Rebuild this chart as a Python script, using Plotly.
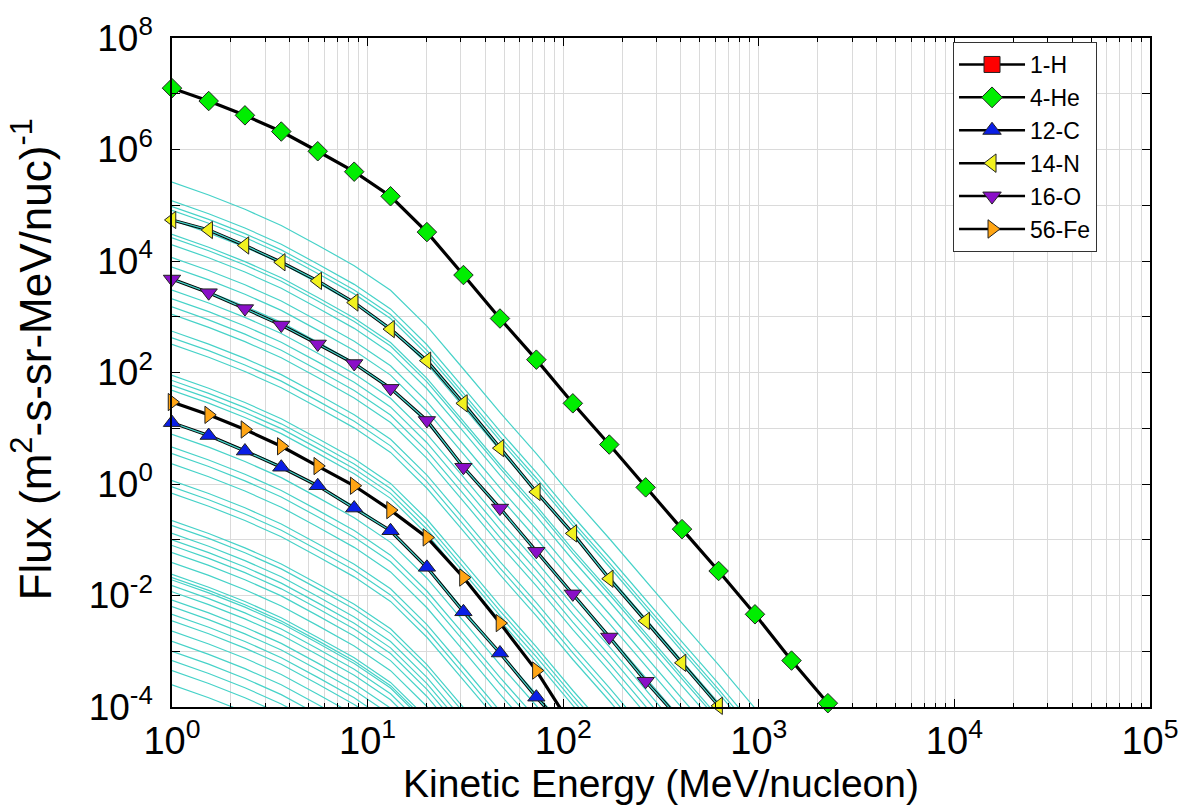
import plotly.graph_objects as go

# ---------------- data ----------------
energy = [1, 1.54, 2.36, 3.62, 5.56, 8.54, 13.1, 20.1, 30.9, 47.5, 72.9,
          112, 172, 264, 405, 623, 956, 1470, 2255]

species = ["1-H", "4-He", "12-C", "14-N", "16-O", "56-Fe"]

flux_h = []  # proton spectrum lies outside the plotted window
flux_he = [1.26e7, 7.4e6, 4.1e6, 2.1e6, 9.3e5, 4.0e5, 1.45e5, 3.3e4, 5.6e3,
           930, 170, 28, 5.1, 0.87, 0.155, 0.0275, 4.6e-3, 6.8e-4, 1.17e-4]
flux_c = [12.6, 7.4, 3.9, 2.0, 0.93, 0.37, 0.145, 0.032, 5.1e-3, 9.3e-4,
          1.5e-4, 2.8e-5]
flux_n = [5.45e4, 3.6e4, 1.9e4, 9.5e3, 4.4e3, 1.8e3, 600, 163, 28, 4.4,
          0.72, 0.13, 0.020, 3.5e-3, 6.2e-4, 1.05e-4]
flux_o = [4750, 2700, 1400, 710, 325, 145, 52, 13.8, 2.0, 0.37, 0.062,
          0.0107, 1.8e-3, 2.9e-4, 5.4e-5]
flux_fe = [29.5, 17.4, 9.5, 4.75, 2.1, 0.93, 0.34, 0.11, 0.021, 3.2e-3,
           4.5e-4, 4.2e-5]

# flux at 1 MeV/nucleon of the thin background spectra (all other elements)
teal_start = [2.6e5, 1.2e5, 9.5e4, 8.1e4, 5.45e4, 3.0e4, 2.6e4, 1.95e4, 1.15e4,
              7.8e3, 4750, 3.0e3, 2.1e3, 1.5e3, 1.1e3, 550, 420, 320, 89, 72,
              59, 48, 12.6, 7.8, 4.6, 3.5, 2.3, 1.15, 0.89, 0.68, 0.22, 0.18,
              0.13, 0.10, 0.079, 0.059, 0.039, 0.024, 0.021, 0.019, 0.015,
              0.0117, 0.0083, 0.0063, 0.0046, 0.0035, 0.0023, 0.0015, 0.001,
              6.8e-4, 4.5e-4, 2.5e-4]

x_ticks = [1, 10, 100, 1000, 10000, 100000]
x_labels = ["10<sup>0</sup>", "10<sup>1</sup>", "10<sup>2</sup>",
            "10<sup>3</sup>", "10<sup>4</sup>", "10<sup>5</sup>"]
y_ticks = [1e-4, 1e-2, 1, 1e2, 1e4, 1e6, 1e8]
y_labels = ["10<sup>-4</sup>", "10<sup>-2</sup>", "10<sup>0</sup>",
            "10<sup>2</sup>", "10<sup>4</sup>", "10<sup>6</sup>", "10<sup>8</sup>"]
y_title = "Flux (m<sup>2</sup>-s-sr-MeV/nuc)<sup>-1</sup>"
x_title = "Kinetic Energy (MeV/nucleon)"

# ---------------- styles ----------------
FONT = "Liberation Sans, Arial, Helvetica, sans-serif"
TEAL = "#46d2c8"
styles = {
    "1-H":   dict(symbol="square", color="#ff0000"),
    "4-He":  dict(symbol="diamond", color="#00ee00"),
    "12-C":  dict(symbol="triangle-up", color="#0a1ee6"),
    "14-N":  dict(symbol="triangle-left", color="#f2f21e"),
    "16-O":  dict(symbol="triangle-down", color="#8a0fc8"),
    "56-Fe": dict(symbol="triangle-right", color="#ffa514"),
}
series = {"1-H": flux_h, "4-He": flux_he, "12-C": flux_c, "14-N": flux_n,
          "16-O": flux_o, "56-Fe": flux_fe}
teal_overlay = {"12-C", "14-N", "16-O"}
YMIN = 1e-4

fig = go.Figure()

# background spectra (same spectral shape as the He spectrum)
for s in teal_start:
    ys = [s * f / flux_he[0] for f in flux_he]
    fig.add_trace(go.Scatter(x=energy, y=ys, mode="lines",
                             line=dict(color=TEAL, width=1.2),
                             showlegend=False, hoverinfo="skip"))

# thick black species lines
for name in species:
    ys = series[name]
    if not ys:
        continue
    fig.add_trace(go.Scatter(x=energy[:len(ys)], y=ys, mode="lines",
                             line=dict(color="black", width=3.2),
                             showlegend=False, hoverinfo="skip"))
    if name in teal_overlay:
        fig.add_trace(go.Scatter(x=energy[:len(ys)], y=ys, mode="lines",
                                 line=dict(color=TEAL, width=1.3),
                                 showlegend=False, hoverinfo="skip"))

# markers
for name in species:
    ys = series[name]
    pts = [(e, f) for e, f in zip(energy, ys) if f >= YMIN]
    st = styles[name]
    fig.add_trace(go.Scatter(
        x=[p[0] for p in pts], y=[p[1] for p in pts], mode="markers",
        marker=dict(symbol=st["symbol"], color=st["color"], size=15,
                    line=dict(color="#222222", width=1)),
        showlegend=False, cliponaxis=False, hoverinfo="skip"))

# legend entries
for name in species:
    st = styles[name]
    fig.add_trace(go.Scatter(
        x=[None], y=[None], mode="lines+markers", name=name,
        line=dict(color="black", width=2.5),
        marker=dict(symbol=st["symbol"], color=st["color"], size=16,
                    line=dict(color="#222222", width=1))))

minor_x = [m * 10 ** d for d in range(0, 5) for m in range(2, 10)]
minor_y = [10.0 ** k for k in range(-3, 8, 2)]

fig.update_layout(
    width=1203, height=806,
    margin=dict(l=172, r=53, t=27, b=99),
    paper_bgcolor="white", plot_bgcolor="white",
    font=dict(family=FONT, color="black"),
    legend=dict(x=0.7986, y=0.994, xanchor="left", yanchor="top",
                bgcolor="white", bordercolor="#333333", borderwidth=1,
                font=dict(size=23, family=FONT), tracegroupgap=0,
                itemwidth=66),
    xaxis=dict(
        type="log", range=[0, 5], tickmode="array", tickvals=x_ticks,
        ticktext=x_labels, tickfont=dict(size=38),
        showline=True, linecolor="black", linewidth=1.5, mirror="allticks",
        ticks="inside", ticklen=8, tickcolor="black",
        showgrid=True, gridcolor="#dadada", gridwidth=1, zeroline=False,
        minor=dict(tickvals=minor_x, showgrid=True, gridcolor="#dadada",
                   ticks="inside", ticklen=4, tickcolor="black"),
        title=dict(text=x_title, font=dict(size=39), standoff=2),
    ),
    yaxis=dict(
        type="log", range=[-4, 8], tickmode="array", tickvals=y_ticks,
        ticktext=y_labels, tickfont=dict(size=37),
        showline=True, linecolor="black", linewidth=1.5, mirror="allticks",
        ticks="inside", ticklen=8, tickcolor="black",
        showgrid=True, gridcolor="#dadada", gridwidth=1, zeroline=False,
        minor=dict(tickvals=minor_y, showgrid=True, gridcolor="#dadada",
                   ticks="inside", ticklen=8, tickcolor="black"),
        ticklabelstandoff=10,
    ),
    annotations=[dict(text=y_title, textangle=-90, xref="paper", yref="paper",
                      x=-0.144, y=0.52, xanchor="center", yanchor="middle",
                      showarrow=False, font=dict(size=44, family=FONT))],
)

fig.write_html("out.html")
